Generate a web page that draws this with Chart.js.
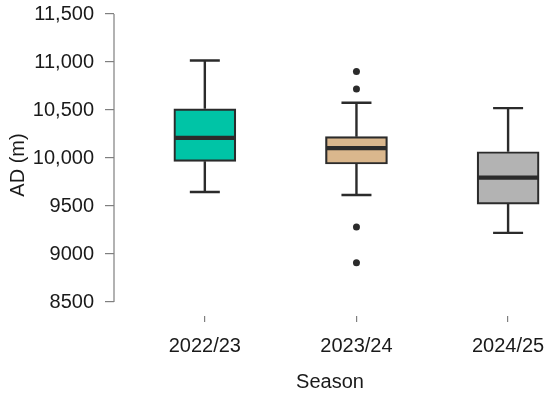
<!DOCTYPE html>
<html><head><meta charset="utf-8">
<script src="https://cdn.jsdelivr.net/npm/chart.js@4/dist/chart.umd.min.js"></script>
<style>html,body{margin:0;padding:0;background:#fff}#wrap{width:550px;height:394px}</style>
</head><body><div id="wrap"><canvas id="c"></canvas></div>
<script>
const seasons = ['2022/23', '2023/24', '2024/25'];
const whiskerLow = [9645, 9615, 9220];
const q1 = [9965, 9937, 9520];
const median = [10210, 10102, 9795];
const q3 = [10512, 10222, 10065];
const whiskerHigh = [11015, 10575, 10520];
const boxColors = ['#00C4A6', '#DAB78D', '#B3B3B3'];
const outlierSeasonIndex = [2, 2, 2, 2];
const outlierValues = [10900, 10720, 9280, 8910];
const yTickValues = [8500, 9000, 9500, 10000, 10500, 11000, 11500];

const FONT = "'Liberation Sans', Arial, sans-serif";
const INK = '#2b2b2b';
const AXIS = '#7f7f7f';

function noPad(scale) {
  scale.paddingTop = 0; scale.paddingBottom = 0;
  scale.paddingLeft = 0; scale.paddingRight = 0;
}

const boxPlugin = {
  id: 'boxParts',
  afterDatasetsDraw(chart) {
    const {ctx, scales: {x, y}} = chart;
    ctx.save();
    ctx.strokeStyle = INK;
    ctx.lineCap = 'butt';
    seasons.forEach((s, i) => {
      const px = x.getPixelForValue(i + 1);
      const capHalf = 15;
      ctx.lineWidth = 2.4;
      ctx.beginPath();
      ctx.moveTo(px, y.getPixelForValue(q3[i]));
      ctx.lineTo(px, y.getPixelForValue(whiskerHigh[i]));
      ctx.moveTo(px, y.getPixelForValue(q1[i]));
      ctx.lineTo(px, y.getPixelForValue(whiskerLow[i]));
      ctx.moveTo(px - capHalf, y.getPixelForValue(whiskerHigh[i]));
      ctx.lineTo(px + capHalf, y.getPixelForValue(whiskerHigh[i]));
      ctx.moveTo(px - capHalf, y.getPixelForValue(whiskerLow[i]));
      ctx.lineTo(px + capHalf, y.getPixelForValue(whiskerLow[i]));
      ctx.stroke();
      ctx.lineWidth = 4.2;
      ctx.beginPath();
      ctx.moveTo(px - 30.5, y.getPixelForValue(median[i]));
      ctx.lineTo(px + 30.5, y.getPixelForValue(median[i]));
      ctx.stroke();
    });
    ctx.strokeStyle = AXIS;
    ctx.lineWidth = 1.2;
    ctx.beginPath();
    const ax = chart.chartArea.left;
    ctx.moveTo(ax, y.getPixelForValue(yTickValues[yTickValues.length - 1]));
    ctx.lineTo(ax, y.getPixelForValue(yTickValues[0]));
    ctx.stroke();
    ctx.restore();
  }
};

new Chart(document.getElementById('c'), {
  type: 'bar',
  data: {
    datasets: [
      {
        type: 'bar',
        data: seasons.map((s, i) => ({x: i + 1, y: [q1[i], q3[i]]})),
        backgroundColor: boxColors,
        borderColor: INK,
        borderWidth: 2.2,
        borderSkipped: false,
        barThickness: 62,
        order: 2
      },
      {
        type: 'line',
        data: outlierValues.map((v, i) => ({x: outlierSeasonIndex[i], y: v})),
        showLine: false,
        pointRadius: 3.5,
        pointBackgroundColor: INK,
        pointBorderWidth: 0,
        order: 1
      }
    ]
  },
  options: {
    responsive: true,
    maintainAspectRatio: false,
    animation: false,
    layout: {padding: {top: 14, right: 3, left: 0, bottom: 0}},
    plugins: {legend: {display: false}, tooltip: {enabled: false}},
    scales: {
      x: {
        type: 'linear',
        offset: false,
        min: 0.401,
        max: 3.25,
        afterBuildTicks(scale) { scale.ticks = seasons.map((s, i) => ({value: i + 1})); },
        afterFit(scale) { scale.height = 78; noPad(scale); },
        border: {display: false},
        grid: {offset: false, drawOnChartArea: false, drawTicks: true, tickLength: 6, color: AXIS, lineWidth: 1.2},
        ticks: {
          callback: (v) => seasons[v - 1],
          color: '#1a1a1a',
          font: {family: FONT, size: 20},
          padding: 12,
          maxRotation: 0,
          autoSkip: false
        },
        title: {display: true, text: 'Season', color: '#1a1a1a', font: {family: FONT, size: 20}, padding: {top: 5, bottom: 0}}
      },
      y: {
        type: 'linear',
        min: 8354,
        max: 11500,
        afterBuildTicks(scale) { scale.ticks = yTickValues.map(v => ({value: v})); },
        afterFit(scale) { scale.width = 114; noPad(scale); },
        border: {display: false},
        grid: {drawOnChartArea: false, drawTicks: true, tickLength: 9, color: AXIS, lineWidth: 1.2},
        ticks: {
          callback: (v) => v >= 10000 ? v.toLocaleString('en-US') : String(v),
          color: '#1a1a1a',
          font: {family: FONT, size: 20},
          padding: 11
        },
        title: {display: true, text: 'AD (m)', color: '#1a1a1a', font: {family: FONT, size: 20}, padding: {top: 6, bottom: 0}}
      }
    }
  },
  plugins: [boxPlugin]
});
</script>
</body></html>
